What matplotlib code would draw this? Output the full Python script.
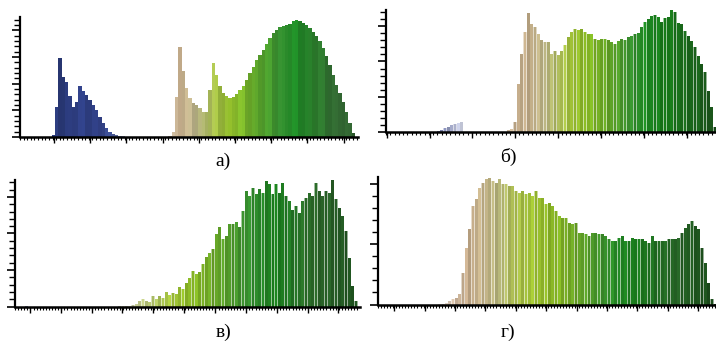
import numpy as np
import matplotlib
matplotlib.use("Agg")
import matplotlib.pyplot as plt
from matplotlib.colors import to_rgb
from matplotlib.ticker import MultipleLocator, FixedLocator

# ---------------- data (bin heights) ----------------
a_start = 0
a_vals = [0, 0, 0, 0, 2, 30, 79, 60, 55, 41, 30, 35, 51, 46, 42, 37, 32, 27, 20, 14,
          9, 5, 3, 2, 1, 0.5, 0, 0, 0, 0, 0, 0, 0, 0, 0, 0, 0, 0, 0, 0.5,
          5, 40, 90, 66, 49, 39, 34, 32, 29, 25, 25, 47, 74, 62, 51, 44, 41, 39, 40, 43,
          47, 51, 57, 64, 70, 77, 82, 87, 93, 99, 104, 107, 110, 111, 112, 113, 116, 117, 116, 114,
          112, 109, 105, 101, 96, 89, 81, 72, 62, 52, 44, 35, 25, 14, 4, 0]

b_start = -33
b_vals = [0, 0, 0, 0, 0, 0,
          0.7, 0.7, 0.7, 0.7, 0.7, 0.7, 0.7, 0.7, 0.7, 0.7,
          2, 3, 4.5, 6, 7.5, 9, 10, 11,
          0, 0, 0, 0, 0, 0, 0, 0, 0, 0, 0, 0, 0,
          3, 4, 11, 49, 79, 101, 120, 109, 106, 99, 92.5, 91, 91, 79, 82, 78, 82, 88, 96, 101,
          103.5, 103, 104, 101, 99, 99, 94, 93, 94, 94, 93, 91, 89, 92, 94, 93, 96, 97, 99, 100,
          106, 111, 114, 117, 117.5, 116, 111, 115, 116, 123, 121, 110, 109, 102, 97, 92, 86, 77, 69, 61,
          42, 26, 6]

c_start = -31
c_vals = [0, 0, 0, 0.7, 0] + [0] * 26 + \
         [0.5, 0.5, 1, 1, 1.7, 2.7, 6, 7.7, 6, 4.3, 11, 7.7, 11, 8.3, 15, 11.7, 13.7, 12.7, 19.3, 17.7,
          24, 28.3, 36, 32.7, 35, 42.7, 50, 54.3, 57.7, 72.7, 80, 67.7, 71, 82.7, 82.7, 85, 80, 96, 116, 111,
          119, 113, 118, 114, 126, 123, 113, 123, 114, 124, 111, 106, 97, 101, 94, 106, 109, 114, 111, 124,
          116, 111, 116, 114, 127.6, 108, 99, 91, 76, 49, 21, 6, 0]

d_start = -18
d_vals = [0] * 18 + \
         [0.5, 1, 1.7, 4, 5.7, 6.3, 10.7, 32, 57, 76, 99, 106, 117, 122, 126, 127, 124, 122, 126, 121,
          121, 119, 119, 114, 112, 114, 111, 112, 109, 114, 107, 107, 101, 102, 99, 94, 89, 87, 87, 82,
          81, 82, 72, 72, 71, 69, 72, 72, 71, 71, 69, 66, 64, 64, 67, 69, 64, 64, 67, 66,
          66, 66, 64, 62, 69, 64, 64, 64, 64, 66, 66, 66, 67, 72, 77, 81, 84, 79, 76, 57,
          42, 22, 6, 1]

panel_labels = ["а)", "б)", "в)", "г)"]

# ---------------- colour stops (bin position -> colour) ----------------
a_stop_pos = [4, 18, 21, 24, 27, 39, 42, 46.5, 49.5, 52.5, 57, 61.5, 66, 72, 76.5, 82.5, 88.5, 93.6]
a_stop_col = ["#2a3a7a", "#32428a", "#3c4e92", "#7484b4", "#c8cce0", "#d4c4aa", "#c8b08e", "#bcb48a",
              "#b4bc70", "#aac44a", "#94c02c", "#78b42a", "#58a42c", "#389432", "#1e8a26", "#2c7e2c",
              "#356f35", "#2f5f2f"]
b_stop_pos = [-27, -15, -10, 3, 6, 10.5, 15, 19, 22.5, 27, 31.5, 36, 40.5, 45, 51, 57, 63, 66]
b_stop_col = ["#3a4a88", "#8890b8", "#d0d4e6", "#d8c8b0", "#c6ae8c", "#c4ae8a", "#bcb684", "#b0be5c",
              "#a2c238", "#8cbc24", "#72ae24", "#58a028", "#3a9430", "#1e8a22", "#167a18", "#1a6c1c",
              "#1a5a1a", "#1a4e1a"]
c_stop_pos = [-28, 1.5, 6, 10.5, 15, 19.5, 24, 28.5, 33, 37.5, 42, 46.5, 51, 55.5, 60, 66, 71.4]
c_stop_col = ["#a0a8c8", "#d8d8c0", "#c0c88a", "#b4c868", "#a8c840", "#94c028", "#80b424", "#6aa828",
              "#529c2a", "#3a9230", "#2a8a2a", "#1a7e1c", "#227a24", "#2a7028", "#2a6428", "#245a24",
              "#1e521e"]
d_stop_pos = [1.5, 4.5, 9, 13.5, 18, 22.5, 27, 31.5, 36, 40.5, 45, 49.5, 54, 58.5, 63, 67.5, 72, 76.5, 81.5]
d_stop_col = ["#e0d4c8", "#d0b8a0", "#c8ae8c", "#c4b48a", "#b8b87a", "#aec050", "#a4c438", "#94bc28",
              "#84b424", "#6ea826", "#549c28", "#3a922c", "#228a24", "#1a7e1c", "#1e7420", "#246a24",
              "#266426", "#205a20", "#1c4e1c"]

SHADES = [1.0, 0.93, 1.05, 0.9, 1.0, 0.96, 1.07, 0.92]


def bar_colours(x, pos, cols, group):
    rgb = np.array([to_rgb(c) for c in cols])
    out = np.stack([np.interp(x, pos, rgb[:, ch]) for ch in range(3)], axis=1)
    f = np.array([SHADES[(n // group) % len(SHADES)] for n in range(len(x))])
    return np.clip(out * f[:, None], 0, 1)


W, H = 716, 343
fig = plt.figure(figsize=(W / 100, H / 100), dpi=100)
fig.patch.set_facecolor("white")


def make_axes(left, right, top, bottom):
    return fig.add_axes([left / W, 1 - bottom / H, (right - left) / W, (bottom - top) / H])


panels = [
    # vals, start, stops pos, stops col, box(l,r,t,b), xlim, xtick0, xstep, nticks, ylim, ymajor, width, group
    (a_vals, a_start, a_stop_pos, a_stop_col, (20, 358, 17, 137), (-6, 95.4), 4.2, 10.86, 9, 120, 26.7, 1.0, 2),
    (b_vals, b_start, b_stop_pos, b_stop_col, (386, 716, 10, 132.5), (-32.7, 66.3), -32.5, 12.87, 8, 123, 35.7, 0.8, 1),
    (c_vals, c_start, c_stop_pos, c_stop_col, (15, 360, 180, 306.7), (-31.5, 72.2), -27, 9.27, 11, 127, 36.7, 0.8, 1),
    (d_vals, d_start, d_stop_pos, d_stop_col, (378, 716, 177, 304.5), (-18.6, 83.2), -13.7, 9.15, 11, 128, 60.7, 0.8, 1),
]

for vals, start, spos, scol, box, xlim, xt0, xstep, nt, ytop, ymaj, width, group in panels:
    ax = make_axes(*box)
    x = start + np.arange(len(vals))
    cols = bar_colours(x, spos, scol, group)
    if width < 1:
        light = 1 - 0.45 * (1 - cols)
        ax.bar(x, vals, width=1.0, color=light, linewidth=0, align="center")
    ax.bar(x, vals, width=width, color=cols, linewidth=0, align="center")
    ax.set_xlim(*xlim)
    ax.set_ylim(0, ytop)
    for s in ("top", "right"):
        ax.spines[s].set_visible(False)
    ax.spines["left"].set_linewidth(1.6)
    ax.spines["bottom"].set_linewidth(1.8)
    majors = [xt0 + xstep * n for n in range(nt)]
    ax.xaxis.set_major_locator(FixedLocator(majors))
    minors = np.arange(xlim[0], xlim[1], xstep / 10)
    ax.xaxis.set_minor_locator(FixedLocator(minors))
    ax.yaxis.set_major_locator(MultipleLocator(ymaj))
    ax.yaxis.set_minor_locator(MultipleLocator(ymaj / 5))
    ax.tick_params(axis="x", which="major", direction="out", length=4, width=1.0)
    ax.tick_params(axis="x", which="minor", direction="out", length=2, width=0.8)
    ax.tick_params(axis="y", which="major", direction="out", length=6, width=1.2)
    ax.tick_params(axis="y", which="minor", direction="out", length=4, width=1.0)
    ax.set_xticklabels([])
    ax.set_yticklabels([])
    ax.set_facecolor("none")

label_pos = [(223, 161), (508, 157), (224, 332), (508, 332)]
for lab, (lx, ly) in zip(panel_labels, label_pos):
    fig.text(lx / W, 1 - ly / H, lab, ha="center", va="center", fontsize=14,
             family=["Liberation Serif", "DejaVu Serif"])

fig.savefig("out.png", dpi=100)
